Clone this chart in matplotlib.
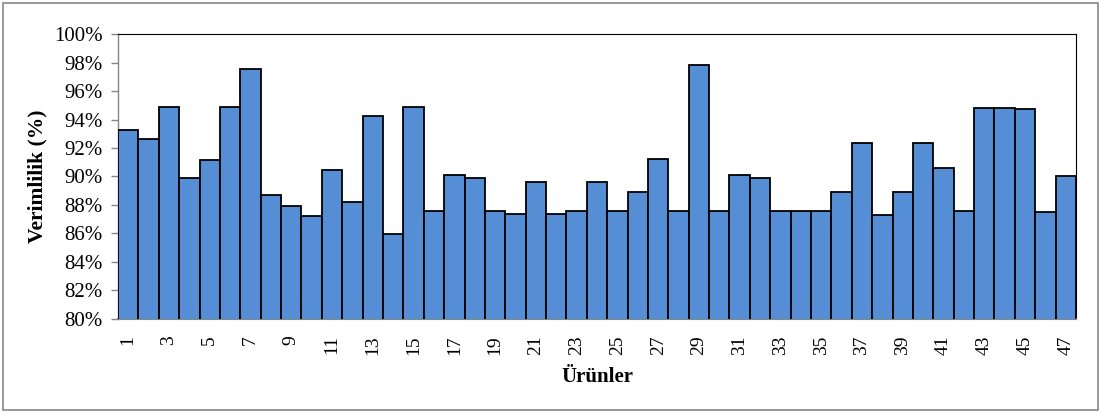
import matplotlib
matplotlib.use("Agg")
import matplotlib.pyplot as plt
from matplotlib.ticker import PercentFormatter
from matplotlib.patches import Rectangle

products = list(range(1, 48))
efficiency = [93.26, 92.63, 94.86, 89.90, 91.13, 94.86, 97.54, 88.66, 87.89, 87.23,
              90.47, 88.19, 94.25, 85.92, 94.90, 87.60, 90.09, 89.88, 87.60, 87.32,
              89.58, 87.32, 87.60, 89.58, 87.60, 88.89, 91.20, 87.60, 97.84, 87.60,
              90.09, 89.88, 87.60, 87.60, 87.60, 88.89, 92.32, 87.25, 88.89, 92.32,
              90.58, 87.60, 94.79, 94.79, 94.75, 87.46, 90.00]
tick_labels = [str(p) for p in products[::2]]

plt.rcParams['font.family'] = ['Liberation Serif', 'DejaVu Serif']

fig = plt.figure(figsize=(11.02, 4.15), dpi=100)
ax = fig.add_axes([118/1102, 1 - 318.5/415, (1076-118)/1102, (318.5-34.3)/415])

ax.bar(products, efficiency, width=1.0, color='#558ED5', edgecolor='black', linewidth=1.3, zorder=3)

ax.set_xlim(0.5, 47.5)
ax.set_ylim(80, 100)
ax.set_yticks(range(80, 101, 2))
ax.yaxis.set_major_formatter(PercentFormatter(decimals=0))
ax.set_xticks(products[::2])
ax.set_xticklabels(tick_labels, rotation=90, fontsize=14)
ax.tick_params(axis='y', labelsize=15, length=5, color='#868686', width=1, direction='out', pad=6)
ax.tick_params(axis='x', length=0, pad=12)

for s in ['top', 'right']:
    ax.spines[s].set_color('black')
    ax.spines[s].set_linewidth(0.8)
ax.spines['left'].set_color('#868686')
ax.spines['left'].set_linewidth(1)
ax.spines['bottom'].set_color('#868686')
ax.spines['bottom'].set_linewidth(1.5)

ax.set_ylabel('Verimlilik (%)', fontsize=15.5, fontweight='bold', labelpad=5)
ax.set_xlabel('Ürünler', fontsize=15, fontweight='bold', labelpad=9)

fig.patches.append(Rectangle((3/1102, 5/415), 1095/1102, 407/415, transform=fig.transFigure,
                             fill=False, edgecolor='#868686', linewidth=1.2))

fig.savefig('out.png', dpi=100)
